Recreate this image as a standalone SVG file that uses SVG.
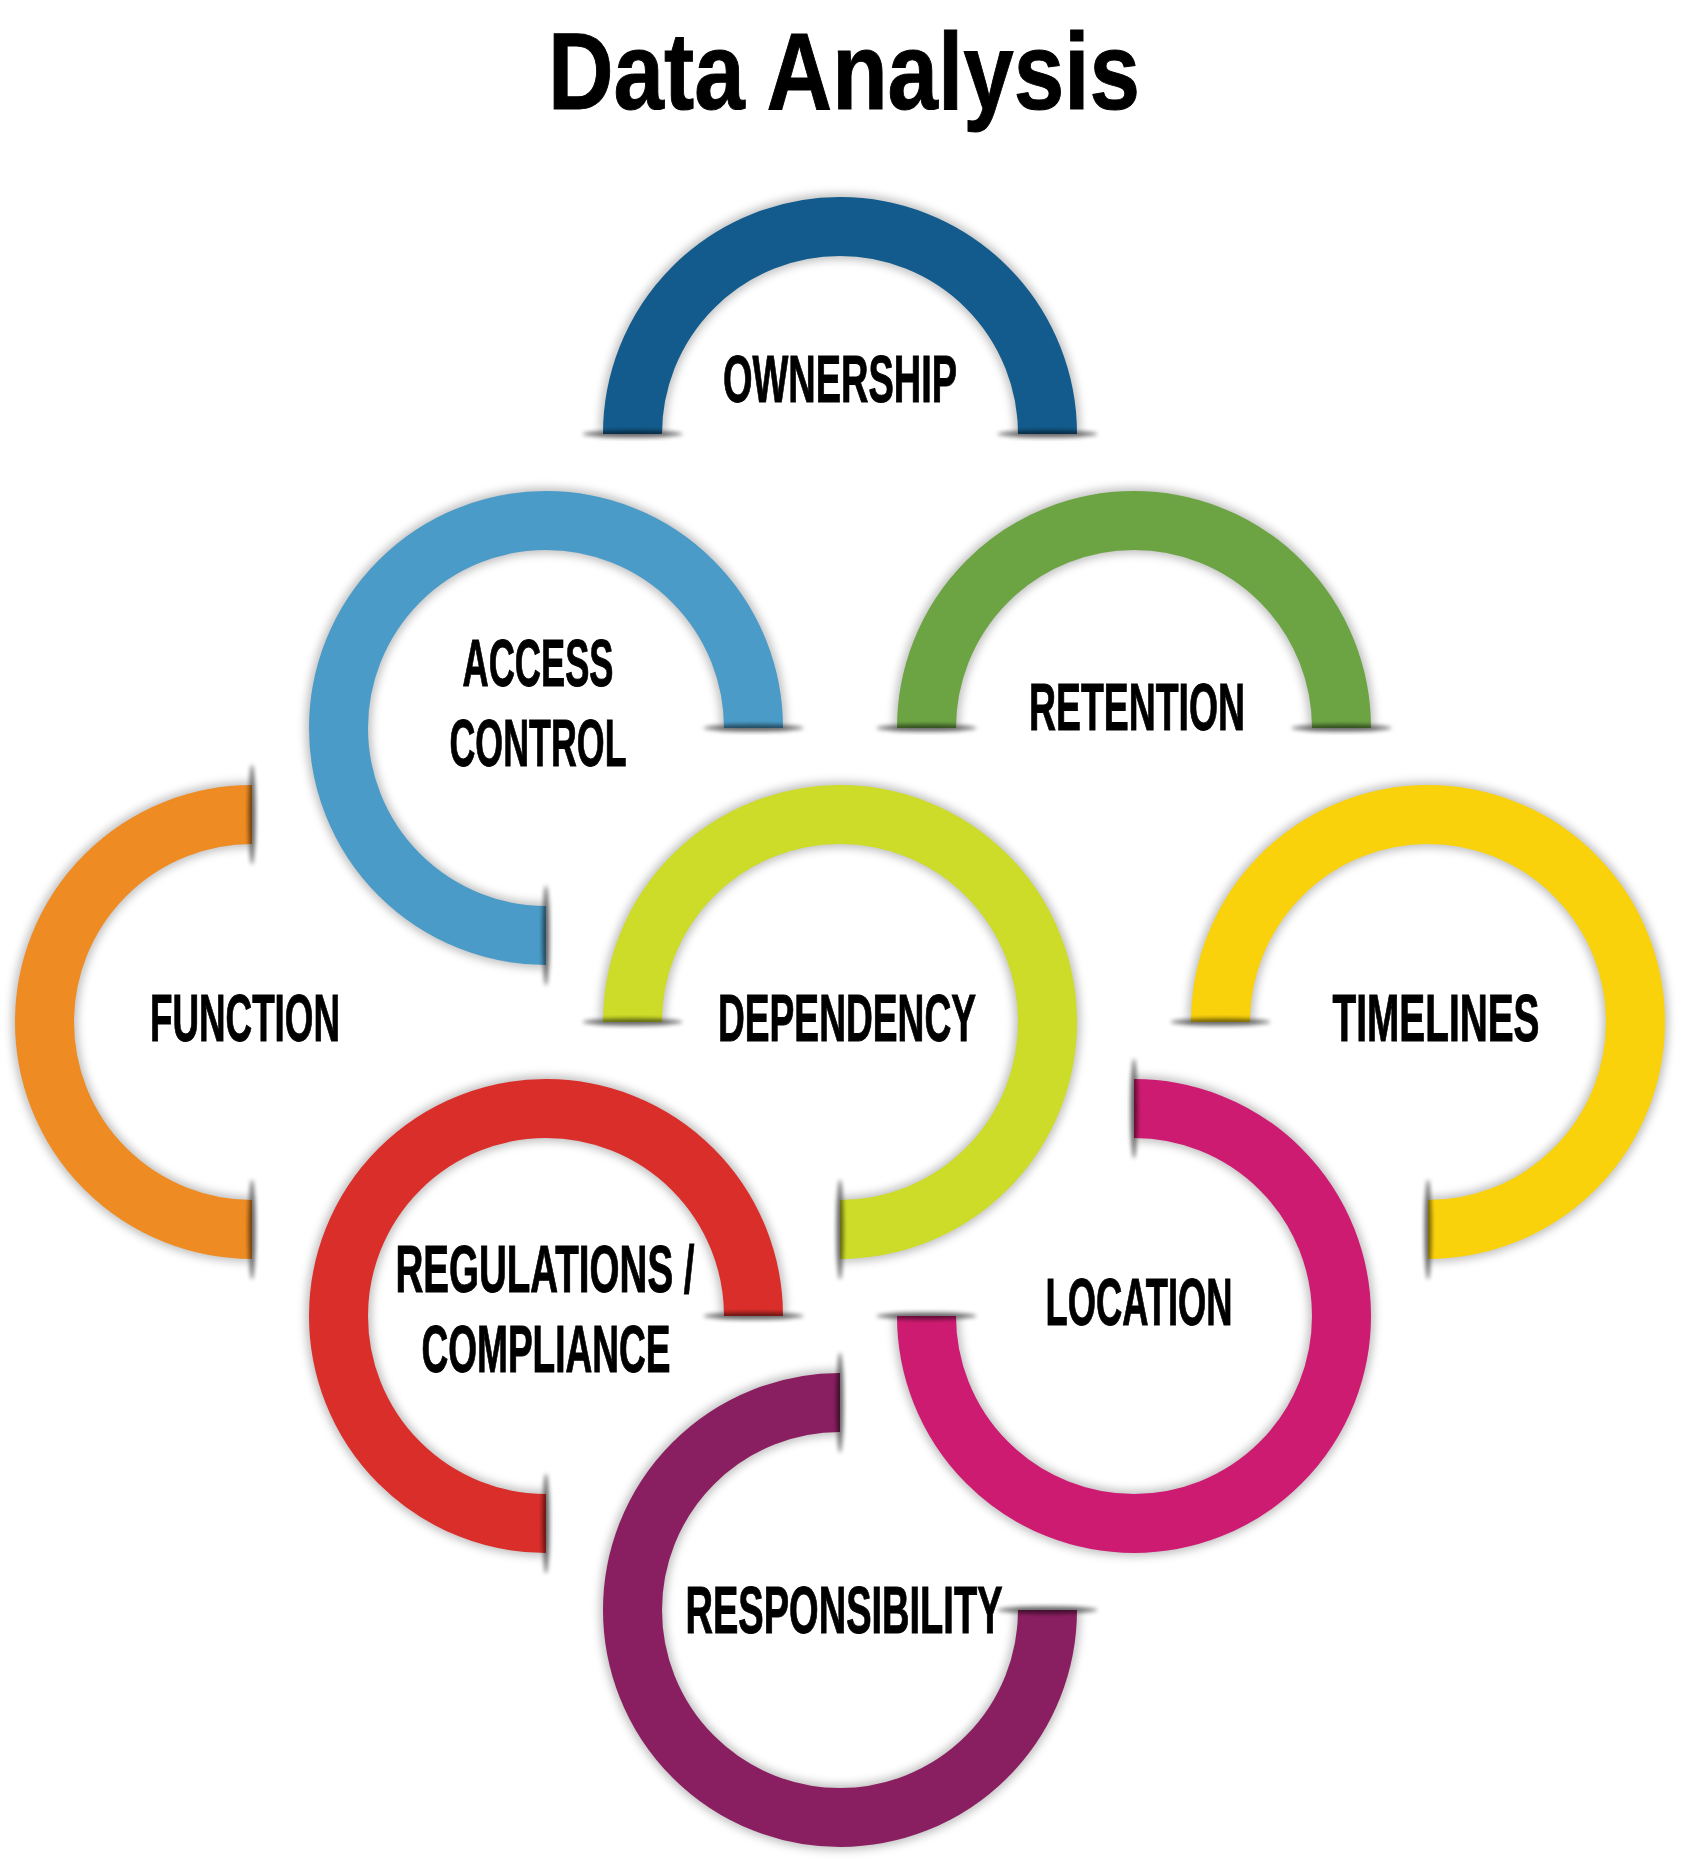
<svg xmlns="http://www.w3.org/2000/svg" width="1686" height="1861" viewBox="0 0 1686 1861">
<defs>
<filter id="blur" x="-20%" y="-20%" width="140%" height="140%"><feGaussianBlur stdDeviation="4"/></filter>
<filter id="blur2" x="-50%" y="-50%" width="200%" height="200%"><feGaussianBlur stdDeviation="2"/></filter>
<style>
.sh{fill:none;stroke:#000;stroke-opacity:.24;stroke-width:66;filter:url(#blur)}
.ring{fill:none;stroke-width:59}
.cut{fill:#000;fill-opacity:.55;filter:url(#blur2)}
.lbl{font-family:"Liberation Sans Narrow","Liberation Sans",Arial,sans-serif;font-weight:bold;font-size:66px;fill:#000;stroke:#000;stroke-width:1;text-anchor:middle}
.title{font-family:"Liberation Sans Narrow","Liberation Sans",Arial,sans-serif;font-weight:bold;font-size:109px;fill:#000;stroke:#000;stroke-width:1;text-anchor:middle}
</style>
</defs>
<rect width="1686" height="1861" fill="#fff"/>
<text class="title" x="844" y="109" textLength="592" lengthAdjust="spacingAndGlyphs">Data Analysis</text>

<g id="ownership">
<path class="sh" d="M632.5 434A207.5 207.5 0 0 1 1047.5 434"/>
<path class="ring" stroke="#125B8C" d="M632.5 434A207.5 207.5 0 0 1 1047.5 434"/>
<ellipse class="cut" cx="632.5" cy="434" rx="50" ry="3.5"/><ellipse class="cut" cx="1047.5" cy="434" rx="50" ry="3.5"/>
<text class="lbl" x="840" y="402" textLength="234" lengthAdjust="spacingAndGlyphs">OWNERSHIP</text>
</g>

<g id="access-control">
<path class="sh" d="M546 935.5A207.5 207.5 0 1 1 753.5 728"/>
<path class="ring" stroke="#4A9BC7" d="M546 935.5A207.5 207.5 0 1 1 753.5 728"/>
<ellipse class="cut" cx="753.5" cy="728" rx="50" ry="3.5"/><ellipse class="cut" cx="546" cy="935.5" rx="3.5" ry="50"/>
<text class="lbl" x="538" y="686" textLength="151" lengthAdjust="spacingAndGlyphs">ACCESS</text>
<text class="lbl" x="538" y="766" textLength="177" lengthAdjust="spacingAndGlyphs">CONTROL</text>
</g>

<g id="retention">
<path class="sh" d="M926.5 728A207.5 207.5 0 0 1 1341.5 728"/>
<path class="ring" stroke="#6CA443" d="M926.5 728A207.5 207.5 0 0 1 1341.5 728"/>
<ellipse class="cut" cx="926.5" cy="728" rx="50" ry="3.5"/><ellipse class="cut" cx="1341.5" cy="728" rx="50" ry="3.5"/>
<text class="lbl" x="1137" y="730" textLength="216" lengthAdjust="spacingAndGlyphs">RETENTION</text>
</g>

<g id="function">
<path class="sh" d="M252 1229.5A207.5 207.5 0 0 1 252 814.5"/>
<path class="ring" stroke="#EE8B22" d="M252 1229.5A207.5 207.5 0 0 1 252 814.5"/>
<ellipse class="cut" cx="252" cy="814.5" rx="3.5" ry="50"/><ellipse class="cut" cx="252" cy="1229.5" rx="3.5" ry="50"/>
<text class="lbl" x="245" y="1041" textLength="190" lengthAdjust="spacingAndGlyphs">FUNCTION</text>
</g>

<g id="dependency">
<path class="sh" d="M632.5 1022A207.5 207.5 0 1 1 840 1229.5"/>
<path class="ring" stroke="#CDDC28" d="M632.5 1022A207.5 207.5 0 1 1 840 1229.5"/>
<ellipse class="cut" cx="632.5" cy="1022" rx="50" ry="3.5"/><ellipse class="cut" cx="840" cy="1229.5" rx="3.5" ry="50"/>
<text class="lbl" x="847" y="1041" textLength="258" lengthAdjust="spacingAndGlyphs">DEPENDENCY</text>
</g>

<g id="timelines">
<path class="sh" d="M1220.5 1022A207.5 207.5 0 1 1 1428 1229.5"/>
<path class="ring" stroke="#FAD20C" d="M1220.5 1022A207.5 207.5 0 1 1 1428 1229.5"/>
<ellipse class="cut" cx="1220.5" cy="1022" rx="50" ry="3.5"/><ellipse class="cut" cx="1428" cy="1229.5" rx="3.5" ry="50"/>
<text class="lbl" x="1436" y="1041" textLength="207" lengthAdjust="spacingAndGlyphs">TIMELINES</text>
</g>

<g id="regulations-compliance">
<path class="sh" d="M546 1523.5A207.5 207.5 0 1 1 753.5 1316"/>
<path class="ring" stroke="#DA2E2A" d="M546 1523.5A207.5 207.5 0 1 1 753.5 1316"/>
<ellipse class="cut" cx="753.5" cy="1316" rx="50" ry="3.5"/><ellipse class="cut" cx="546" cy="1523.5" rx="3.5" ry="50"/>
<text class="lbl" x="545" y="1292" textLength="299" lengthAdjust="spacingAndGlyphs">REGULATIONS /</text>
<text class="lbl" x="546" y="1372" textLength="249" lengthAdjust="spacingAndGlyphs">COMPLIANCE</text>
</g>

<g id="location">
<path class="sh" d="M1134 1108.5A207.5 207.5 0 1 1 926.5 1316"/>
<path class="ring" stroke="#CE1B72" d="M1134 1108.5A207.5 207.5 0 1 1 926.5 1316"/>
<ellipse class="cut" cx="1134" cy="1108.5" rx="3.5" ry="50"/><ellipse class="cut" cx="926.5" cy="1316" rx="50" ry="3.5"/>
<text class="lbl" x="1139" y="1325" textLength="187" lengthAdjust="spacingAndGlyphs">LOCATION</text>
</g>

<g id="responsibility">
<path class="sh" d="M1047.5 1610A207.5 207.5 0 1 1 840 1402.5"/>
<path class="ring" stroke="#891F60" d="M1047.5 1610A207.5 207.5 0 1 1 840 1402.5"/>
<ellipse class="cut" cx="1047.5" cy="1610" rx="50" ry="3.5"/><ellipse class="cut" cx="840" cy="1402.5" rx="3.5" ry="50"/>
<text class="lbl" x="844" y="1633" textLength="317" lengthAdjust="spacingAndGlyphs">RESPONSIBILITY</text>
</g>

<g id="connectors"></g>
</svg>
